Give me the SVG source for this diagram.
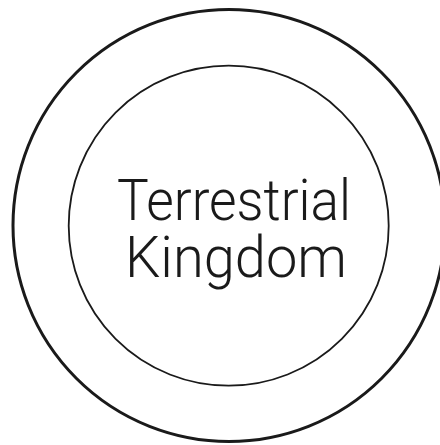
<svg xmlns="http://www.w3.org/2000/svg" width="440" height="445" viewBox="0 0 440 445">
<style>
.ring{fill:none;stroke:#1a1a1a}
.lbl{font-family:Roboto,"Liberation Sans",Arial,sans-serif;font-weight:300;font-size:57px;fill:#1a1a1a;text-anchor:middle}
</style>
<rect width="440" height="445" fill="#fff"/>
<g id="outer"><circle class="ring" cx="229" cy="225.5" r="216" stroke-width="3"/></g>
<g id="inner"><circle class="ring" cx="228.7" cy="225.7" r="160" stroke-width="1.8"/></g>
<g id="label">
<text class="lbl" x="234" y="220" textLength="234" lengthAdjust="spacingAndGlyphs">Terrestrial</text>
<text class="lbl" x="236" y="277" textLength="222" lengthAdjust="spacingAndGlyphs">Kingdom</text>
</g>
<g id="connectors"/>
</svg>
